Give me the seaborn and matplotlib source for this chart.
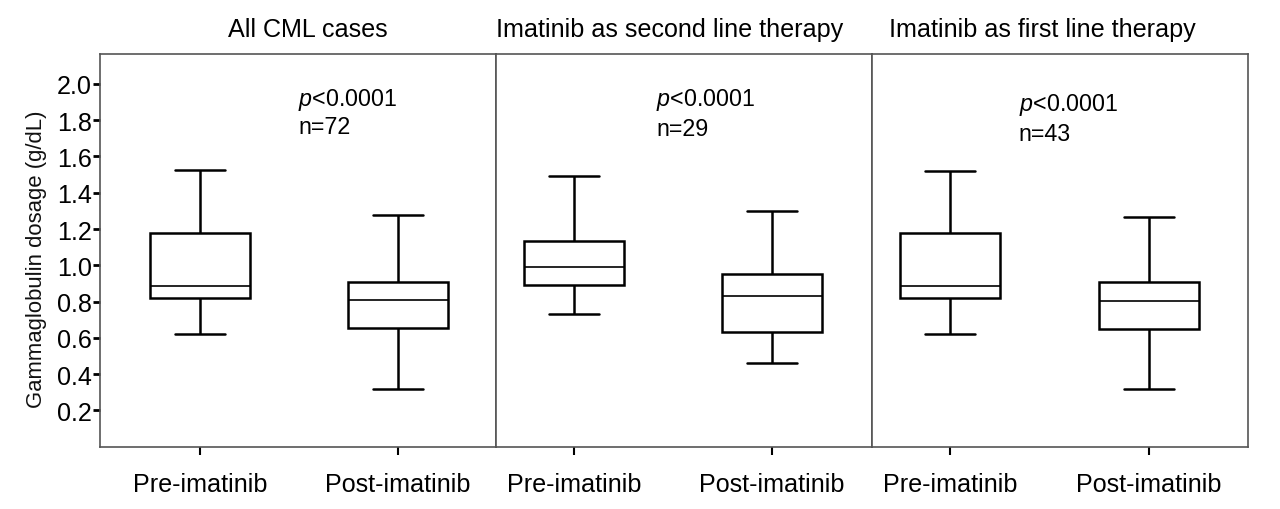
import numpy as np
import pandas as pd
import seaborn as sns
import matplotlib.pyplot as plt
from matplotlib import font_manager

# five-number summaries: min, Q1, median, Q3, max
phases = ["Pre-imatinib", "Post-imatinib"]
panel_titles = ["All CML cases", "Imatinib as second line therapy", "Imatinib as first line therapy"]
n_labels = ["n=72", "n=29", "n=43"]

all_pre = [0.62, 0.822, 0.885, 1.180, 1.525]
all_post = [0.32, 0.652, 0.810, 0.908, 1.275]
second_pre = [0.732, 0.890, 0.991, 1.134, 1.491]
second_post = [0.462, 0.634, 0.833, 0.951, 1.300]
first_pre = [0.62, 0.822, 0.888, 1.180, 1.518]
first_post = [0.32, 0.650, 0.804, 0.910, 1.265]

panel_data = [(all_pre, all_post), (second_pre, second_post), (first_pre, first_post)]

# pick a narrow font if one is around, otherwise shrink a regular one
installed = {f.name for f in font_manager.fontManager.ttflist}
if "Liberation Sans Narrow" in installed:
    main_font, k = "Liberation Sans Narrow", 1.0
elif "DejaVu Sans Condensed" in installed:
    main_font, k = "DejaVu Sans Condensed", 0.88
else:
    main_font, k = "Liberation Sans", 0.86

sns.set_style("white")
plt.rcParams['font.family'] = [main_font, 'DejaVu Sans']
plt.rcParams['text.color'] = 'black'
plt.rcParams['axes.labelcolor'] = '#111111'
plt.rcParams['mathtext.fontset'] = 'custom'
plt.rcParams['mathtext.it'] = main_font + ':italic'
plt.rcParams['mathtext.rm'] = main_font

fig, axes = plt.subplots(1, 3, figsize=(12.8, 5.1), dpi=100, sharey=True,
                         gridspec_kw={'width_ratios': [396, 376, 376]})
fig.subplots_adjust(left=100/1280, right=1248/1280, bottom=62.3/510, top=455/510, wspace=0)

xlims = [(-0.505, 1.495), (-0.394, 1.505), (-0.394, 1.5)]
text_pos = [(0.495, 1.918, 1.764), (0.416, 1.918, 1.753), (0.345, 1.89, 1.725)]
title_x = [0.525, 0.463, 0.452]

for i, ax in enumerate(axes):
    pre, post = panel_data[i]
    df = pd.DataFrame({
        "phase": [phases[0]] * len(pre) + [phases[1]] * len(post),
        "value": pre + post,
    })
    sns.boxplot(data=df, x="phase", y="value", order=phases, ax=ax,
                whis=(0, 100), width=0.505, color="white", linecolor="black",
                linewidth=1.8, showfliers=False,
                medianprops={'linewidth': 1.2})
    ax.set_xlim(*xlims[i])
    ax.set_ylim(0.0, 2.165)
    ax.set_xlabel("")
    ax.set_ylabel("")
    for sp in ax.spines.values():
        sp.set_visible(True)
        sp.set_color("#555555")
        sp.set_linewidth(1.2)
    ax.tick_params(axis='x', bottom=True, direction='out', length=6, width=1.5,
                   colors='black', labelsize=21 * k, pad=12)
    tx, ty1, ty2 = text_pos[i]
    ax.text(tx, ty1, "$p$<0.0001", fontsize=19.5 * k, va='center', ha='left')
    ax.text(tx, ty2, n_labels[i], fontsize=19.5 * k, va='center', ha='left')
    ax.text(title_x[i], 1.064, panel_titles[i], transform=ax.transAxes,
            fontsize=21 * k, ha='center', va='center')
    if i > 0:
        ax.tick_params(axis='y', left=False, labelleft=False)

axes[0].set_yticks(np.arange(0.2, 2.01, 0.2))
axes[0].set_yticklabels([f"{v:.1f}" for v in np.arange(0.2, 2.01, 0.2)])
axes[0].tick_params(axis='y', left=True, direction='out', length=5, width=2,
                    colors='black', labelsize=21 * k, pad=1)
axes[0].set_ylabel("Gammaglobulin dosage (g/dL)", fontsize=18.5 * k)
axes[0].yaxis.set_label_coords(-0.135, 0.48)

fig.savefig("out.png", dpi=100)
